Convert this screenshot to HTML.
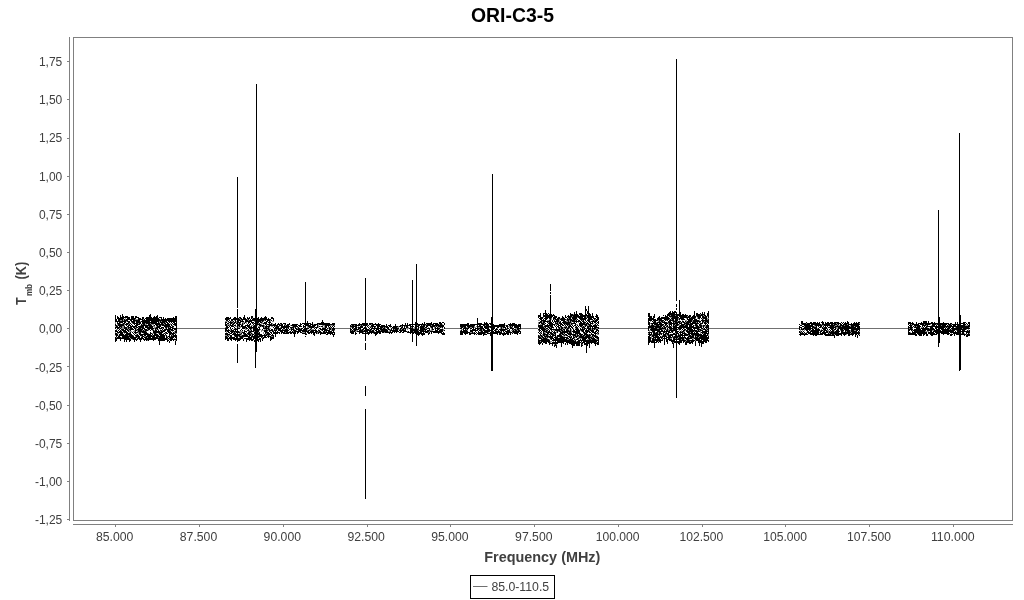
<!DOCTYPE html>
<html><head><meta charset="utf-8"><title>ORI-C3-5</title>
<style>
html,body{margin:0;padding:0;background:#fff;width:1024px;height:600px;overflow:hidden}
svg{display:block;filter:grayscale(1)}
text{font-family:"Liberation Sans",sans-serif}
.t{font-size:12px;fill:#404040}
.b{font-weight:bold;fill:#404040}
</style></head><body>
<svg width="1024" height="600" viewBox="0 0 1024 600">
<rect x="0" y="0" width="1024" height="600" fill="#fff"/>
<text x="512.5" y="22" text-anchor="middle" font-size="20" font-weight="bold" fill="#000" textLength="83" lengthAdjust="spacingAndGlyphs">ORI-C3-5</text>
<rect x="73.5" y="37.5" width="939" height="483" fill="none" stroke="#808080" stroke-width="1"/>
<g stroke="#808080" stroke-width="1" fill="none">
<path d="M69.5 37V521M73 524.5H1013"/>
<path d="M67 61.5H70M67 99.5H70M67 138.5H70M67 176.5H70M67 214.5H70M67 252.5H70M67 290.5H70M67 328.5H70M67 366.5H70M67 405.5H70M67 443.5H70M67 481.5H70M67 519.5H70M115.5 524V527M199.5 524V527M283.5 524V527M367.5 524V527M450.5 524V527M534.5 524V527M618.5 524V527M702.5 524V527M785.5 524V527M869.5 524V527M953.5 524V527"/>
</g>
<g class="t" text-anchor="end">
<text x="62.3" y="66.0">1,75</text><text x="62.3" y="104.2">1,50</text><text x="62.3" y="142.4">1,25</text><text x="62.3" y="180.6">1,00</text><text x="62.3" y="218.8">0,75</text><text x="62.3" y="256.9">0,50</text><text x="62.3" y="295.1">0,25</text><text x="62.3" y="333.3">0,00</text><text x="62.3" y="371.5">-0,25</text><text x="62.3" y="409.7">-0,50</text><text x="62.3" y="447.9">-0,75</text><text x="62.3" y="486.1">-1,00</text><text x="62.3" y="524.3">-1,25</text>
</g>
<g class="t" text-anchor="middle">
<text x="114.7" y="541.2" textLength="37.4" lengthAdjust="spacingAndGlyphs">85.000</text><text x="198.5" y="541.2" textLength="37.4" lengthAdjust="spacingAndGlyphs">87.500</text><text x="282.3" y="541.2" textLength="37.4" lengthAdjust="spacingAndGlyphs">90.000</text><text x="366.1" y="541.2" textLength="37.4" lengthAdjust="spacingAndGlyphs">92.500</text><text x="449.9" y="541.2" textLength="37.4" lengthAdjust="spacingAndGlyphs">95.000</text><text x="533.8" y="541.2" textLength="37.4" lengthAdjust="spacingAndGlyphs">97.500</text><text x="617.6" y="541.2" textLength="43.8" lengthAdjust="spacingAndGlyphs">100.000</text><text x="701.4" y="541.2" textLength="43.8" lengthAdjust="spacingAndGlyphs">102.500</text><text x="785.2" y="541.2" textLength="43.8" lengthAdjust="spacingAndGlyphs">105.000</text><text x="869.0" y="541.2" textLength="43.8" lengthAdjust="spacingAndGlyphs">107.500</text><text x="952.8" y="541.2" textLength="43.8" lengthAdjust="spacingAndGlyphs">110.000</text>
</g>
<text class="b" x="542.3" y="561.6" text-anchor="middle" font-size="14" textLength="116.1" lengthAdjust="spacingAndGlyphs">Frequency (MHz)</text>
<g transform="translate(26 305) rotate(-90)" class="b"><text x="0" y="0" font-size="14" textLength="7.6" lengthAdjust="spacingAndGlyphs">T</text><text x="8.9" y="5.8" font-size="8.6" font-weight="bold" textLength="12.2" lengthAdjust="spacingAndGlyphs">mb</text><text x="25.5" y="0" font-size="14" textLength="17.6" lengthAdjust="spacingAndGlyphs">(K)</text></g>
<rect x="470.5" y="575.5" width="84" height="23" fill="#fff" stroke="#000" stroke-width="1"/>
<path d="M473 586.5H487.5" stroke="#707070" stroke-width="1" fill="none"/>
<text x="491.4" y="590.8" font-size="12" fill="#404040" textLength="57.8" lengthAdjust="spacingAndGlyphs">85.0-110.5</text>
<path d="M177 328.5H225M335 328.5H350M445 328.5H460M521 328.5H538M599 328.5H648M709 328.5H799M860 328.5H908" stroke="#707070" stroke-width="1" fill="none"/>
<path shape-rendering="crispEdges" fill="#8a8a8a" d="M115 322v2h1v-2zM115 326v1h1v-1zM115 332v1h1v-1zM115 335v1h1v-1zM116 329v1h1v-1zM116 337v1h1v-1zM117 324v2h1v-2zM117 329v1h1v-1zM117 333v1h1v-1zM118 333v1h1v-1zM118 335v1h1v-1zM119 328v1h1v-1zM120 320v1h1v-1zM120 323v1h1v-1zM120 327v1h1v-1zM121 320v1h1v-1zM121 328v1h1v-1zM121 330v1h1v-1zM121 337v1h1v-1zM122 323v1h1v-1zM122 326v3h1v-3zM123 319v2h1v-2zM123 326v3h1v-3zM123 332v1h1v-1zM124 324v2h1v-2zM124 333v1h1v-1zM125 318v2h1v-2zM126 321v1h1v-1zM127 327v2h1v-2zM128 324v1h1v-1zM128 329v1h1v-1zM128 335v1h1v-1zM129 323v1h1v-1zM129 328v1h1v-1zM129 330v3h1v-3zM129 337v1h1v-1zM130 331v1h1v-1zM130 338v1h1v-1zM131 322v1h1v-1zM131 331v1h1v-1zM132 323v1h1v-1zM132 339v1h1v-1zM133 331v1h1v-1zM133 335v1h1v-1zM134 330v2h1v-2zM135 319v1h1v-1zM135 321v1h1v-1zM135 327v1h1v-1zM135 336v1h1v-1zM136 319v1h1v-1zM136 328v2h1v-2zM136 333v2h1v-2zM137 319v1h1v-1zM137 330v2h1v-2zM137 337v1h1v-1zM138 323v1h1v-1zM138 327v1h1v-1zM138 332v2h1v-2zM140 321v1h1v-1zM140 325v1h1v-1zM141 328v1h1v-1zM141 332v1h1v-1zM141 336v1h1v-1zM142 324v1h1v-1zM142 330v1h1v-1zM143 319v1h1v-1zM143 333v1h1v-1zM144 330v1h1v-1zM144 336v1h1v-1zM145 323v2h1v-2zM145 336v1h1v-1zM146 324v1h1v-1zM146 331v1h1v-1zM147 329v1h1v-1zM147 337v1h1v-1zM147 340v1h1v-1zM148 326v1h1v-1zM148 330v1h1v-1zM148 333v1h1v-1zM150 323v1h1v-1zM151 324v1h1v-1zM152 324v1h1v-1zM152 330v1h1v-1zM152 333v1h1v-1zM152 335v1h1v-1zM153 324v3h1v-3zM153 329v1h1v-1zM153 333v1h1v-1zM154 326v3h1v-3zM154 330v1h1v-1zM155 327v1h1v-1zM156 326v1h1v-1zM156 329v1h1v-1zM156 333v1h1v-1zM158 325v1h1v-1zM158 329v1h1v-1zM158 333v1h1v-1zM158 337v1h1v-1zM159 321v2h1v-2zM160 319v1h1v-1zM160 329v1h1v-1zM160 331v1h1v-1zM161 321v1h1v-1zM161 325v1h1v-1zM162 328v1h1v-1zM162 330v1h1v-1zM163 323v1h1v-1zM163 333v1h1v-1zM164 324v1h1v-1zM165 322v1h1v-1zM165 328v1h1v-1zM165 333v1h1v-1zM165 335v1h1v-1zM167 327v1h1v-1zM167 336v1h1v-1zM167 338v1h1v-1zM169 327v1h1v-1zM169 338v1h1v-1zM170 323v2h1v-2zM170 330v1h1v-1zM170 336v1h1v-1zM171 334v1h1v-1zM172 325v1h1v-1zM172 331v1h1v-1zM172 335v1h1v-1zM173 327v1h1v-1zM174 325v1h1v-1zM174 331v2h1v-2zM174 338v1h1v-1zM175 330v1h1v-1zM175 333v1h1v-1zM175 340v1h1v-1zM176 333v1h1v-1zM225 321v1h1v-1zM225 327v1h1v-1zM225 335v1h1v-1zM226 321v1h1v-1zM226 331v2h1v-2zM226 335v1h1v-1zM227 321v1h1v-1zM227 324v2h1v-2zM227 336v1h1v-1zM228 322v1h1v-1zM228 324v1h1v-1zM228 335v1h1v-1zM229 319v1h1v-1zM229 324v2h1v-2zM229 333v1h1v-1zM229 335v1h1v-1zM230 329v2h1v-2zM231 321v1h1v-1zM232 321v1h1v-1zM232 323v1h1v-1zM233 322v1h1v-1zM233 325v1h1v-1zM233 329v1h1v-1zM233 332v1h1v-1zM234 320v1h1v-1zM234 328v1h1v-1zM234 336v1h1v-1zM235 324v1h1v-1zM235 326v1h1v-1zM235 332v1h1v-1zM236 321v2h1v-2zM236 326v1h1v-1zM236 328v1h1v-1zM238 323v1h1v-1zM238 326v2h1v-2zM238 336v1h1v-1zM239 318v1h1v-1zM239 327v1h1v-1zM239 331v1h1v-1zM239 333v1h1v-1zM239 337v1h1v-1zM240 319v1h1v-1zM240 323v1h1v-1zM240 326v2h1v-2zM240 331v3h1v-3zM240 335v1h1v-1zM241 320v1h1v-1zM241 324v1h1v-1zM241 331v2h1v-2zM241 334v2h1v-2zM242 322v1h1v-1zM242 331v1h1v-1zM243 322v3h1v-3zM243 334v1h1v-1zM243 337v1h1v-1zM244 322v1h1v-1zM245 328v2h1v-2zM246 322v2h1v-2zM246 329v1h1v-1zM246 332v1h1v-1zM247 319v1h1v-1zM247 334v1h1v-1zM248 320v1h1v-1zM248 331v1h1v-1zM249 330v1h1v-1zM250 326v1h1v-1zM250 330v1h1v-1zM250 333v1h1v-1zM251 325v1h1v-1zM251 329v1h1v-1zM251 332v1h1v-1zM251 334v2h1v-2zM252 318v1h1v-1zM252 325v1h1v-1zM252 328v1h1v-1zM252 333v1h1v-1zM252 337v1h1v-1zM253 323v1h1v-1zM253 325v1h1v-1zM254 321v1h1v-1zM254 331v1h1v-1zM254 334v1h1v-1zM257 325v1h1v-1zM258 323v1h1v-1zM258 326v1h1v-1zM258 332v1h1v-1zM258 335v1h1v-1zM259 326v1h1v-1zM259 330v1h1v-1zM259 337v1h1v-1zM260 329v1h1v-1zM261 321v1h1v-1zM261 323v2h1v-2zM261 326v1h1v-1zM261 330v2h1v-2zM262 322v2h1v-2zM262 330v1h1v-1zM262 337v1h1v-1zM263 321v1h1v-1zM263 324v1h1v-1zM263 330v1h1v-1zM263 332v2h1v-2zM264 320v1h1v-1zM264 325v3h1v-3zM264 329v1h1v-1zM265 329v1h1v-1zM265 334v1h1v-1zM266 324v1h1v-1zM266 333v1h1v-1zM267 327v1h1v-1zM267 329v1h1v-1zM267 331v1h1v-1zM267 335v1h1v-1zM268 325v1h1v-1zM268 330v1h1v-1zM269 327v2h1v-2zM269 335v1h1v-1zM270 320v2h1v-2zM270 328v1h1v-1zM270 331v1h1v-1zM271 326v1h1v-1zM271 336v1h1v-1zM272 321v1h1v-1zM272 323v2h1v-2zM272 326v1h1v-1zM272 336v1h1v-1zM273 321v1h1v-1zM273 330v1h1v-1zM275 326v1h1v-1zM275 329v1h1v-1zM277 329v1h1v-1zM279 326v1h1v-1zM280 324v1h1v-1zM280 327v1h1v-1zM283 329v1h1v-1zM284 324v1h1v-1zM284 329v1h1v-1zM285 325v1h1v-1zM285 332v1h1v-1zM287 328v1h1v-1zM289 331v1h1v-1zM290 325v1h1v-1zM290 328v2h1v-2zM292 326v1h1v-1zM292 328v1h1v-1zM293 331v1h1v-1zM294 327v1h1v-1zM294 329v1h1v-1zM296 330v1h1v-1zM297 327v2h1v-2zM300 328v1h1v-1zM302 332v1h1v-1zM303 332v1h1v-1zM304 327v1h1v-1zM304 332v1h1v-1zM306 333v1h1v-1zM307 326v2h1v-2zM307 329v2h1v-2zM308 327v1h1v-1zM309 329v1h1v-1zM310 328v1h1v-1zM310 330v1h1v-1zM311 329v1h1v-1zM312 329v1h1v-1zM313 324v1h1v-1zM313 329v1h1v-1zM314 327v1h1v-1zM317 332v2h1v-2zM318 324v4h1v-4zM318 329v1h1v-1zM318 331v1h1v-1zM320 326v1h1v-1zM321 330v1h1v-1zM322 325v1h1v-1zM322 327v1h1v-1zM322 332v1h1v-1zM323 325v1h1v-1zM323 327v1h1v-1zM324 325v3h1v-3zM325 331v1h1v-1zM327 329v1h1v-1zM328 327v2h1v-2zM330 325v1h1v-1zM330 327v1h1v-1zM331 325v1h1v-1zM331 328v3h1v-3zM332 325v1h1v-1zM334 325v1h1v-1zM334 330v1h1v-1zM350 327v1h1v-1zM351 325v1h1v-1zM351 327v1h1v-1zM351 330v1h1v-1zM353 328v1h1v-1zM353 330v1h1v-1zM354 325v1h1v-1zM355 331v1h1v-1zM356 330v2h1v-2zM357 327v1h1v-1zM357 330v1h1v-1zM358 326v1h1v-1zM359 329v1h1v-1zM360 325v1h1v-1zM361 329v1h1v-1zM362 325v1h1v-1zM363 330v1h1v-1zM363 332v1h1v-1zM366 327v1h1v-1zM366 332v1h1v-1zM367 325v1h1v-1zM369 326v1h1v-1zM369 329v1h1v-1zM370 326v1h1v-1zM371 324v1h1v-1zM371 327v1h1v-1zM371 330v1h1v-1zM373 329v1h1v-1zM373 333v1h1v-1zM374 331v1h1v-1zM375 327v1h1v-1zM380 330v1h1v-1zM382 328v1h1v-1zM383 327v1h1v-1zM384 332v1h1v-1zM385 327v2h1v-2zM387 329v1h1v-1zM388 331v1h1v-1zM389 330v2h1v-2zM390 327v1h1v-1zM390 329v1h1v-1zM392 328v1h1v-1zM394 329v1h1v-1zM397 327v1h1v-1zM398 326v2h1v-2zM398 329v1h1v-1zM399 329v1h1v-1zM401 326v1h1v-1zM401 329v1h1v-1zM402 328v1h1v-1zM404 329v1h1v-1zM405 326v1h1v-1zM406 328v1h1v-1zM407 328v2h1v-2zM407 331v1h1v-1zM408 327v2h1v-2zM411 327v1h1v-1zM413 328v1h1v-1zM413 331v1h1v-1zM414 327v2h1v-2zM417 325v1h1v-1zM417 328v1h1v-1zM418 330v1h1v-1zM419 327v1h1v-1zM422 325v1h1v-1zM424 327v1h1v-1zM424 330v1h1v-1zM425 325v1h1v-1zM425 328v1h1v-1zM426 324v1h1v-1zM426 328v1h1v-1zM428 327v1h1v-1zM428 332v1h1v-1zM429 331v1h1v-1zM430 327v1h1v-1zM430 330v1h1v-1zM431 325v1h1v-1zM431 328v3h1v-3zM432 330v1h1v-1zM434 327v2h1v-2zM435 326v1h1v-1zM437 326v1h1v-1zM438 327v1h1v-1zM439 324v1h1v-1zM439 327v1h1v-1zM439 329v1h1v-1zM441 327v1h1v-1zM442 324v1h1v-1zM442 328v1h1v-1zM443 329v2h1v-2zM460 327v1h1v-1zM460 330v1h1v-1zM461 329v1h1v-1zM462 329v1h1v-1zM463 327v1h1v-1zM466 327v1h1v-1zM466 329v1h1v-1zM467 327v1h1v-1zM467 330v1h1v-1zM470 327v1h1v-1zM470 329v1h1v-1zM470 332v1h1v-1zM471 327v1h1v-1zM471 332v1h1v-1zM473 332v1h1v-1zM474 326v2h1v-2zM475 327v1h1v-1zM476 326v1h1v-1zM478 327v1h1v-1zM479 327v1h1v-1zM479 329v1h1v-1zM480 331v1h1v-1zM482 329v2h1v-2zM485 325v1h1v-1zM485 333v1h1v-1zM488 332v1h1v-1zM489 327v1h1v-1zM496 330v1h1v-1zM497 328v1h1v-1zM500 327v2h1v-2zM500 331v1h1v-1zM502 327v2h1v-2zM503 328v1h1v-1zM503 332v1h1v-1zM505 325v1h1v-1zM505 330v1h1v-1zM506 328v1h1v-1zM507 329v1h1v-1zM508 326v1h1v-1zM509 326v2h1v-2zM510 331v1h1v-1zM511 326v1h1v-1zM511 330v1h1v-1zM512 327v1h1v-1zM512 330v1h1v-1zM512 332v1h1v-1zM513 329v1h1v-1zM514 330v1h1v-1zM515 328v1h1v-1zM516 328v2h1v-2zM517 330v1h1v-1zM519 329v1h1v-1zM520 329v1h1v-1zM538 320v1h1v-1zM538 322v3h1v-3zM538 327v1h1v-1zM538 330v1h1v-1zM538 338v1h1v-1zM539 320v1h1v-1zM539 335v1h1v-1zM540 324v1h1v-1zM540 333v1h1v-1zM540 336v1h1v-1zM540 341v1h1v-1zM541 324v1h1v-1zM541 332v1h1v-1zM541 337v1h1v-1zM542 321v2h1v-2zM542 334v2h1v-2zM542 338v1h1v-1zM543 317v1h1v-1zM543 326v1h1v-1zM544 323v1h1v-1zM544 325v1h1v-1zM544 327v1h1v-1zM544 332v1h1v-1zM544 337v1h1v-1zM545 328v1h1v-1zM545 330v1h1v-1zM545 332v2h1v-2zM545 335v1h1v-1zM546 329v1h1v-1zM546 337v1h1v-1zM547 320v1h1v-1zM547 327v1h1v-1zM547 329v1h1v-1zM547 331v1h1v-1zM547 338v1h1v-1zM548 320v1h1v-1zM548 322v1h1v-1zM548 334v2h1v-2zM548 337v1h1v-1zM549 319v1h1v-1zM549 326v1h1v-1zM549 339v1h1v-1zM550 327v1h1v-1zM550 334v1h1v-1zM550 339v1h1v-1zM550 341v2h1v-2zM551 318v2h1v-2zM551 331v1h1v-1zM551 341v1h1v-1zM553 328v1h1v-1zM553 330v1h1v-1zM553 333v1h1v-1zM553 336v1h1v-1zM553 341v1h1v-1zM554 319v1h1v-1zM554 330v1h1v-1zM554 334v1h1v-1zM554 344v1h1v-1zM555 324v1h1v-1zM556 322v1h1v-1zM556 324v1h1v-1zM556 331v2h1v-2zM556 336v1h1v-1zM556 344v1h1v-1zM558 322v2h1v-2zM558 328v1h1v-1zM558 331v1h1v-1zM559 319v3h1v-3zM559 333v1h1v-1zM559 337v1h1v-1zM560 318v1h1v-1zM560 327v2h1v-2zM560 330v1h1v-1zM561 331v1h1v-1zM561 334v1h1v-1zM562 329v1h1v-1zM563 327v2h1v-2zM563 330v1h1v-1zM563 333v1h1v-1zM563 335v2h1v-2zM564 326v1h1v-1zM564 328v1h1v-1zM564 334v1h1v-1zM564 336v1h1v-1zM565 324v1h1v-1zM565 326v1h1v-1zM565 335v1h1v-1zM566 319v3h1v-3zM566 328v1h1v-1zM567 321v1h1v-1zM567 327v1h1v-1zM567 336v1h1v-1zM567 339v1h1v-1zM568 318v1h1v-1zM568 325v1h1v-1zM568 329v1h1v-1zM568 332v1h1v-1zM568 339v1h1v-1zM569 320v2h1v-2zM569 328v1h1v-1zM569 330v1h1v-1zM569 335v1h1v-1zM570 323v2h1v-2zM570 336v1h1v-1zM571 317v1h1v-1zM571 321v2h1v-2zM571 329v4h1v-4zM571 338v1h1v-1zM572 316v1h1v-1zM572 319v1h1v-1zM572 324v1h1v-1zM572 335v1h1v-1zM573 314v1h1v-1zM573 322v1h1v-1zM573 328v1h1v-1zM573 333v1h1v-1zM574 336v1h1v-1zM574 338v1h1v-1zM574 340v1h1v-1zM575 320v1h1v-1zM575 326v1h1v-1zM575 328v1h1v-1zM575 337v1h1v-1zM575 339v1h1v-1zM576 319v1h1v-1zM576 324v1h1v-1zM576 334v2h1v-2zM576 341v1h1v-1zM577 317v1h1v-1zM577 324v1h1v-1zM578 322v1h1v-1zM578 328v1h1v-1zM578 336v2h1v-2zM578 339v1h1v-1zM579 327v1h1v-1zM579 335v1h1v-1zM579 338v1h1v-1zM580 330v1h1v-1zM580 338v1h1v-1zM581 327v1h1v-1zM581 331v1h1v-1zM581 338v1h1v-1zM581 342v1h1v-1zM582 320v1h1v-1zM582 326v1h1v-1zM582 335v1h1v-1zM582 344v1h1v-1zM583 328v1h1v-1zM583 333v1h1v-1zM584 321v1h1v-1zM584 325v2h1v-2zM584 336v1h1v-1zM585 323v1h1v-1zM585 332v1h1v-1zM585 335v1h1v-1zM586 316v2h1v-2zM586 328v1h1v-1zM587 319v1h1v-1zM587 324v2h1v-2zM587 339v1h1v-1zM588 325v1h1v-1zM588 334v1h1v-1zM588 339v1h1v-1zM589 327v1h1v-1zM589 330v1h1v-1zM590 321v1h1v-1zM590 334v1h1v-1zM590 336v1h1v-1zM590 338v1h1v-1zM591 328v2h1v-2zM591 336v1h1v-1zM591 339v1h1v-1zM592 320v1h1v-1zM592 324v1h1v-1zM592 337v1h1v-1zM593 323v1h1v-1zM593 329v1h1v-1zM593 336v1h1v-1zM594 320v1h1v-1zM594 324v1h1v-1zM595 319v1h1v-1zM595 323v1h1v-1zM595 329v1h1v-1zM596 328v1h1v-1zM596 335v1h1v-1zM596 338v2h1v-2zM596 342v1h1v-1zM597 325v1h1v-1zM597 328v1h1v-1zM597 333v2h1v-2zM597 339v1h1v-1zM598 332v1h1v-1zM598 334v1h1v-1zM648 333v1h1v-1zM649 328v1h1v-1zM649 330v2h1v-2zM650 321v1h1v-1zM650 323v1h1v-1zM650 325v1h1v-1zM650 328v1h1v-1zM650 330v1h1v-1zM651 324v1h1v-1zM651 335v4h1v-4zM651 340v1h1v-1zM652 332v1h1v-1zM652 334v1h1v-1zM653 321v1h1v-1zM654 325v1h1v-1zM654 327v1h1v-1zM654 336v1h1v-1zM654 338v1h1v-1zM655 325v1h1v-1zM655 332v1h1v-1zM656 322v1h1v-1zM657 328v1h1v-1zM658 320v2h1v-2zM658 328v1h1v-1zM658 332v2h1v-2zM658 341v1h1v-1zM659 325v1h1v-1zM660 321v1h1v-1zM660 334v1h1v-1zM661 322v1h1v-1zM661 327v1h1v-1zM661 336v1h1v-1zM662 329v1h1v-1zM662 333v1h1v-1zM662 335v1h1v-1zM662 338v1h1v-1zM663 321v1h1v-1zM663 325v1h1v-1zM663 327v1h1v-1zM663 329v1h1v-1zM664 325v1h1v-1zM664 329v1h1v-1zM665 332v1h1v-1zM666 320v1h1v-1zM666 325v1h1v-1zM666 327v1h1v-1zM666 329v1h1v-1zM666 334v2h1v-2zM667 322v1h1v-1zM667 327v1h1v-1zM667 335v1h1v-1zM668 323v2h1v-2zM668 326v1h1v-1zM668 329v2h1v-2zM669 319v1h1v-1zM669 329v1h1v-1zM669 334v1h1v-1zM670 315v1h1v-1zM670 317v1h1v-1zM670 338v1h1v-1zM671 317v1h1v-1zM671 319v1h1v-1zM671 326v1h1v-1zM671 332v1h1v-1zM671 338v1h1v-1zM672 321v1h1v-1zM672 326v1h1v-1zM672 329v1h1v-1zM672 337v1h1v-1zM673 331v1h1v-1zM673 336v1h1v-1zM673 342v1h1v-1zM674 320v1h1v-1zM674 322v1h1v-1zM674 325v1h1v-1zM675 315v1h1v-1zM675 324v1h1v-1zM675 333v1h1v-1zM675 338v1h1v-1zM677 321v1h1v-1zM677 335v1h1v-1zM677 338v1h1v-1zM678 318v2h1v-2zM678 325v1h1v-1zM678 329v1h1v-1zM678 337v1h1v-1zM679 320v1h1v-1zM679 324v2h1v-2zM679 330v1h1v-1zM679 334v1h1v-1zM680 322v1h1v-1zM681 330v2h1v-2zM681 339v1h1v-1zM682 320v1h1v-1zM682 322v1h1v-1zM683 332v1h1v-1zM684 325v1h1v-1zM684 328v1h1v-1zM684 331v1h1v-1zM684 338v2h1v-2zM685 320v1h1v-1zM685 322v1h1v-1zM685 324v1h1v-1zM685 330v1h1v-1zM685 341v1h1v-1zM686 318v1h1v-1zM686 320v2h1v-2zM686 333v1h1v-1zM686 340v1h1v-1zM687 316v1h1v-1zM688 330v1h1v-1zM688 335v1h1v-1zM689 323v1h1v-1zM689 337v1h1v-1zM689 339v1h1v-1zM690 317v1h1v-1zM690 332v1h1v-1zM690 341v1h1v-1zM691 335v1h1v-1zM692 320v2h1v-2zM692 338v1h1v-1zM693 338v2h1v-2zM694 325v1h1v-1zM694 331v1h1v-1zM694 335v1h1v-1zM694 337v1h1v-1zM695 318v1h1v-1zM695 326v1h1v-1zM695 340v1h1v-1zM696 316v1h1v-1zM696 322v1h1v-1zM696 336v1h1v-1zM697 317v2h1v-2zM697 324v1h1v-1zM697 330v1h1v-1zM698 337v1h1v-1zM699 319v2h1v-2zM699 326v1h1v-1zM699 328v1h1v-1zM699 330v1h1v-1zM699 336v1h1v-1zM700 314v1h1v-1zM700 322v1h1v-1zM700 331v3h1v-3zM701 324v1h1v-1zM701 329v1h1v-1zM702 318v1h1v-1zM702 325v2h1v-2zM702 329v1h1v-1zM703 315v1h1v-1zM703 319v1h1v-1zM703 322v1h1v-1zM703 328v1h1v-1zM703 333v1h1v-1zM704 316v1h1v-1zM704 321v1h1v-1zM704 326v1h1v-1zM705 325v2h1v-2zM706 322v1h1v-1zM706 329v1h1v-1zM707 316v1h1v-1zM707 318v2h1v-2zM707 328v1h1v-1zM707 330v1h1v-1zM708 318v1h1v-1zM708 334v2h1v-2zM800 329v3h1v-3zM801 324v1h1v-1zM801 332v1h1v-1zM802 328v1h1v-1zM802 330v1h1v-1zM804 326v1h1v-1zM804 329v2h1v-2zM804 333v1h1v-1zM806 323v1h1v-1zM806 332v1h1v-1zM810 330v1h1v-1zM813 328v1h1v-1zM814 325v2h1v-2zM815 326v1h1v-1zM817 328v1h1v-1zM819 332v1h1v-1zM820 330v1h1v-1zM821 324v1h1v-1zM821 327v1h1v-1zM821 329v1h1v-1zM822 325v1h1v-1zM823 325v1h1v-1zM823 327v1h1v-1zM823 330v1h1v-1zM827 328v1h1v-1zM827 330v1h1v-1zM828 330v3h1v-3zM829 326v1h1v-1zM829 333v1h1v-1zM830 331v1h1v-1zM831 334v1h1v-1zM833 324v1h1v-1zM833 329v1h1v-1zM834 326v1h1v-1zM834 330v2h1v-2zM834 334v1h1v-1zM835 325v1h1v-1zM836 323v1h1v-1zM836 325v1h1v-1zM836 327v2h1v-2zM837 324v1h1v-1zM837 327v2h1v-2zM838 325v1h1v-1zM839 325v1h1v-1zM840 330v1h1v-1zM841 326v1h1v-1zM843 329v1h1v-1zM843 331v1h1v-1zM844 325v1h1v-1zM846 331v1h1v-1zM846 334v1h1v-1zM847 324v1h1v-1zM850 325v2h1v-2zM850 330v2h1v-2zM850 333v1h1v-1zM851 332v1h1v-1zM854 326v1h1v-1zM854 330v1h1v-1zM855 330v1h1v-1zM859 323v1h1v-1zM859 331v1h1v-1zM859 334v1h1v-1zM909 328v1h1v-1zM910 332v1h1v-1zM911 324v1h1v-1zM912 325v1h1v-1zM912 328v1h1v-1zM912 330v1h1v-1zM914 326v1h1v-1zM916 326v1h1v-1zM920 328v1h1v-1zM921 327v1h1v-1zM922 327v1h1v-1zM924 324v1h1v-1zM925 331v1h1v-1zM926 325v1h1v-1zM926 331v1h1v-1zM927 327v1h1v-1zM927 331v1h1v-1zM928 331v1h1v-1zM929 328v1h1v-1zM930 324v1h1v-1zM931 325v1h1v-1zM932 330v1h1v-1zM933 330v1h1v-1zM936 324v1h1v-1zM941 325v1h1v-1zM945 327v1h1v-1zM947 327v1h1v-1zM948 325v1h1v-1zM949 329v1h1v-1zM951 324v1h1v-1zM951 329v1h1v-1zM951 333v1h1v-1zM955 327v1h1v-1zM956 330v1h1v-1zM961 333v1h1v-1zM962 328v1h1v-1zM964 333v1h1v-1zM965 325v1h1v-1zM966 325v1h1v-1zM966 329v1h1v-1zM966 334v1h1v-1zM967 325v1h1v-1zM968 329v2h1v-2zM969 327v1h1v-1zM969 333v1h1v-1z"/>
<path shape-rendering="crispEdges" fill="#000" d="M115 315v7h1v-7zM115 324v2h1v-2zM115 327v2h1v-2zM115 330v2h1v-2zM115 333v2h1v-2zM115 337v5h1v-5zM116 319v3h1v-3zM116 325v3h1v-3zM116 330v2h1v-2zM116 333v4h1v-4zM116 338v3h1v-3zM117 316v3h1v-3zM117 321v3h1v-3zM117 326v3h1v-3zM117 331v2h1v-2zM117 334v2h1v-2zM117 337v2h1v-2zM118 317v5h1v-5zM118 323v3h1v-3zM118 327v2h1v-2zM118 330v1h1v-1zM118 332v1h1v-1zM118 336v3h1v-3zM119 318v10h1v-10zM119 329v1h1v-1zM119 331v2h1v-2zM119 334v5h1v-5zM120 315v5h1v-5zM120 321v2h1v-2zM120 324v3h1v-3zM120 328v1h1v-1zM120 330v6h1v-6zM120 337v4h1v-4zM121 317v3h1v-3zM121 321v2h1v-2zM121 324v4h1v-4zM121 329v1h1v-1zM121 331v5h1v-5zM121 338v1h1v-1zM122 314v9h1v-9zM122 324v2h1v-2zM122 329v2h1v-2zM122 332v7h1v-7zM123 316v3h1v-3zM123 321v1h1v-1zM123 323v3h1v-3zM123 329v3h1v-3zM123 334v5h1v-5zM124 317v1h1v-1zM124 319v5h1v-5zM124 326v3h1v-3zM124 330v3h1v-3zM124 335v7h1v-7zM125 316v2h1v-2zM125 320v3h1v-3zM125 324v1h1v-1zM125 327v6h1v-6zM125 334v6h1v-6zM126 316v2h1v-2zM126 319v2h1v-2zM126 323v3h1v-3zM126 327v3h1v-3zM126 331v11h1v-11zM127 316v6h1v-6zM127 323v2h1v-2zM127 326v1h1v-1zM127 329v2h1v-2zM127 332v8h1v-8zM128 317v3h1v-3zM128 321v3h1v-3zM128 325v4h1v-4zM128 330v2h1v-2zM128 333v2h1v-2zM128 336v4h1v-4zM129 317v3h1v-3zM129 321v2h1v-2zM129 324v2h1v-2zM129 327v1h1v-1zM129 329v1h1v-1zM129 333v4h1v-4zM129 338v4h1v-4zM130 319v2h1v-2zM130 323v1h1v-1zM130 325v6h1v-6zM130 332v6h1v-6zM130 339v2h1v-2zM131 316v6h1v-6zM131 324v1h1v-1zM131 326v4h1v-4zM131 334v5h1v-5zM132 316v4h1v-4zM132 321v2h1v-2zM132 325v2h1v-2zM132 328v2h1v-2zM132 332v1h1v-1zM132 335v4h1v-4zM133 316v8h1v-8zM133 326v2h1v-2zM133 329v1h1v-1zM133 333v1h1v-1zM133 336v4h1v-4zM134 318v7h1v-7zM134 326v3h1v-3zM134 332v1h1v-1zM134 334v1h1v-1zM134 337v5h1v-5zM135 316v3h1v-3zM135 320v1h1v-1zM135 323v1h1v-1zM135 325v2h1v-2zM135 328v6h1v-6zM135 335v1h1v-1zM135 337v3h1v-3zM136 316v2h1v-2zM136 320v8h1v-8zM136 330v1h1v-1zM136 332v1h1v-1zM136 335v3h1v-3zM136 339v2h1v-2zM137 317v1h1v-1zM137 320v6h1v-6zM137 327v1h1v-1zM137 329v1h1v-1zM137 332v1h1v-1zM137 334v3h1v-3zM137 338v2h1v-2zM138 317v6h1v-6zM138 324v1h1v-1zM138 326v1h1v-1zM138 328v4h1v-4zM138 335v4h1v-4zM139 318v7h1v-7zM139 326v9h1v-9zM139 336v4h1v-4zM140 318v2h1v-2zM140 322v2h1v-2zM140 326v10h1v-10zM140 338v4h1v-4zM141 319v1h1v-1zM141 321v1h1v-1zM141 324v4h1v-4zM141 329v3h1v-3zM141 334v2h1v-2zM141 337v3h1v-3zM142 317v7h1v-7zM142 325v5h1v-5zM142 331v2h1v-2zM142 334v5h1v-5zM143 317v2h1v-2zM143 320v9h1v-9zM143 330v3h1v-3zM143 334v1h1v-1zM143 336v1h1v-1zM143 338v2h1v-2zM144 319v7h1v-7zM144 328v2h1v-2zM144 331v5h1v-5zM144 337v1h1v-1zM144 339v2h1v-2zM145 318v1h1v-1zM145 320v3h1v-3zM145 325v3h1v-3zM145 329v7h1v-7zM145 337v3h1v-3zM146 317v7h1v-7zM146 325v3h1v-3zM146 329v2h1v-2zM146 332v3h1v-3zM146 336v5h1v-5zM147 317v7h1v-7zM147 325v4h1v-4zM147 330v1h1v-1zM147 333v4h1v-4zM147 338v2h1v-2zM148 317v9h1v-9zM148 327v3h1v-3zM148 334v7h1v-7zM149 315v15h1v-15zM149 334v6h1v-6zM150 314v7h1v-7zM150 322v1h1v-1zM150 324v5h1v-5zM150 330v1h1v-1zM150 332v8h1v-8zM151 317v7h1v-7zM151 325v5h1v-5zM151 333v1h1v-1zM151 335v2h1v-2zM151 338v2h1v-2zM152 318v6h1v-6zM152 326v4h1v-4zM152 334v1h1v-1zM152 336v4h1v-4zM153 317v7h1v-7zM153 328v1h1v-1zM153 330v3h1v-3zM153 335v6h1v-6zM154 316v8h1v-8zM154 325v1h1v-1zM154 331v9h1v-9zM155 317v8h1v-8zM155 328v8h1v-8zM155 337v3h1v-3zM156 316v10h1v-10zM156 327v2h1v-2zM156 330v3h1v-3zM156 334v5h1v-5zM157 315v7h1v-7zM157 323v7h1v-7zM157 331v2h1v-2zM157 334v5h1v-5zM158 318v7h1v-7zM158 326v2h1v-2zM158 330v3h1v-3zM158 335v2h1v-2zM158 338v3h1v-3zM159 317v1h1v-1zM159 319v2h1v-2zM159 323v6h1v-6zM159 331v4h1v-4zM159 336v9h1v-9zM160 317v1h1v-1zM160 320v3h1v-3zM160 324v3h1v-3zM160 328v1h1v-1zM160 330v1h1v-1zM160 332v9h1v-9zM161 317v4h1v-4zM161 322v3h1v-3zM161 327v2h1v-2zM161 330v11h1v-11zM162 319v7h1v-7zM162 327v1h1v-1zM162 329v1h1v-1zM162 331v2h1v-2zM162 334v7h1v-7zM163 317v6h1v-6zM163 324v2h1v-2zM163 327v2h1v-2zM163 330v2h1v-2zM163 334v7h1v-7zM164 319v5h1v-5zM164 325v2h1v-2zM164 329v3h1v-3zM164 333v1h1v-1zM164 335v6h1v-6zM165 318v4h1v-4zM165 323v5h1v-5zM165 329v2h1v-2zM165 332v1h1v-1zM165 334v1h1v-1zM165 338v2h1v-2zM166 319v4h1v-4zM166 324v6h1v-6zM166 332v2h1v-2zM166 335v5h1v-5zM167 318v3h1v-3zM167 322v5h1v-5zM167 329v3h1v-3zM167 333v1h1v-1zM167 337v1h1v-1zM167 339v3h1v-3zM168 318v4h1v-4zM168 323v10h1v-10zM168 336v1h1v-1zM168 338v1h1v-1zM168 340v1h1v-1zM169 318v5h1v-5zM169 324v3h1v-3zM169 328v10h1v-10zM169 339v1h1v-1zM169 341v2h1v-2zM170 318v4h1v-4zM170 326v4h1v-4zM170 331v4h1v-4zM170 337v4h1v-4zM171 318v5h1v-5zM171 324v2h1v-2zM171 327v1h1v-1zM171 329v2h1v-2zM171 332v2h1v-2zM171 335v6h1v-6zM172 318v4h1v-4zM172 323v1h1v-1zM172 326v5h1v-5zM172 333v2h1v-2zM172 336v4h1v-4zM173 317v6h1v-6zM173 324v1h1v-1zM173 326v1h1v-1zM173 328v1h1v-1zM173 330v1h1v-1zM173 332v6h1v-6zM173 339v2h1v-2zM174 318v7h1v-7zM174 328v2h1v-2zM174 333v1h1v-1zM174 335v2h1v-2zM174 339v1h1v-1zM175 316v6h1v-6zM175 323v3h1v-3zM175 328v2h1v-2zM175 331v2h1v-2zM175 334v4h1v-4zM175 339v1h1v-1zM175 341v4h1v-4zM176 316v17h1v-17zM176 335v6h1v-6zM225 318v2h1v-2zM225 322v4h1v-4zM225 328v4h1v-4zM225 333v2h1v-2zM225 336v4h1v-4zM226 317v4h1v-4zM226 322v1h1v-1zM226 324v7h1v-7zM226 333v2h1v-2zM226 336v3h1v-3zM227 317v4h1v-4zM227 323v1h1v-1zM227 326v3h1v-3zM227 330v2h1v-2zM227 333v3h1v-3zM227 337v4h1v-4zM228 317v3h1v-3zM228 321v1h1v-1zM228 323v1h1v-1zM228 325v1h1v-1zM228 327v1h1v-1zM228 329v4h1v-4zM228 334v1h1v-1zM228 336v1h1v-1zM228 338v3h1v-3zM229 318v1h1v-1zM229 320v1h1v-1zM229 322v1h1v-1zM229 326v1h1v-1zM229 330v1h1v-1zM229 332v1h1v-1zM229 334v1h1v-1zM229 337v2h1v-2zM230 317v2h1v-2zM230 321v5h1v-5zM230 327v2h1v-2zM230 331v1h1v-1zM230 333v1h1v-1zM230 335v5h1v-5zM231 319v2h1v-2zM231 322v2h1v-2zM231 325v2h1v-2zM231 329v5h1v-5zM231 335v6h1v-6zM232 319v2h1v-2zM232 322v1h1v-1zM232 324v3h1v-3zM232 328v1h1v-1zM232 330v3h1v-3zM232 334v1h1v-1zM232 337v2h1v-2zM233 318v2h1v-2zM233 321v1h1v-1zM233 323v2h1v-2zM233 326v1h1v-1zM233 330v2h1v-2zM233 333v2h1v-2zM233 337v3h1v-3zM234 317v3h1v-3zM234 322v2h1v-2zM234 325v1h1v-1zM234 327v1h1v-1zM234 329v1h1v-1zM234 331v5h1v-5zM234 337v3h1v-3zM235 317v6h1v-6zM235 325v1h1v-1zM235 328v4h1v-4zM235 333v4h1v-4zM235 338v3h1v-3zM236 318v2h1v-2zM236 323v1h1v-1zM236 329v1h1v-1zM236 331v2h1v-2zM236 334v6h1v-6zM237 177v131h1v-131zM237 309v33h1v-33zM237 344v19h1v-19zM238 318v5h1v-5zM238 324v2h1v-2zM238 328v1h1v-1zM238 331v2h1v-2zM238 334v2h1v-2zM238 338v3h1v-3zM239 317v1h1v-1zM239 319v2h1v-2zM239 322v5h1v-5zM239 328v1h1v-1zM239 332v1h1v-1zM239 334v3h1v-3zM239 338v3h1v-3zM240 317v2h1v-2zM240 320v3h1v-3zM240 324v1h1v-1zM240 330v1h1v-1zM240 334v1h1v-1zM240 336v4h1v-4zM241 318v2h1v-2zM241 321v1h1v-1zM241 325v2h1v-2zM241 329v1h1v-1zM241 333v1h1v-1zM241 336v3h1v-3zM242 319v3h1v-3zM242 323v6h1v-6zM242 330v1h1v-1zM242 332v1h1v-1zM242 335v4h1v-4zM243 317v3h1v-3zM243 321v1h1v-1zM243 326v3h1v-3zM243 332v2h1v-2zM243 335v2h1v-2zM243 339v2h1v-2zM244 315v5h1v-5zM244 323v1h1v-1zM244 326v3h1v-3zM244 330v7h1v-7zM244 338v1h1v-1zM245 318v5h1v-5zM245 325v3h1v-3zM245 331v1h1v-1zM245 333v4h1v-4zM245 338v1h1v-1zM246 319v3h1v-3zM246 325v1h1v-1zM246 327v2h1v-2zM246 331v1h1v-1zM246 334v3h1v-3zM246 338v4h1v-4zM247 317v2h1v-2zM247 320v2h1v-2zM247 324v3h1v-3zM247 328v1h1v-1zM247 330v1h1v-1zM247 333v1h1v-1zM247 335v2h1v-2zM247 338v2h1v-2zM248 318v2h1v-2zM248 321v3h1v-3zM248 325v3h1v-3zM248 329v2h1v-2zM248 332v3h1v-3zM248 336v4h1v-4zM249 317v2h1v-2zM249 320v3h1v-3zM249 324v5h1v-5zM249 331v10h1v-10zM250 319v3h1v-3zM250 323v2h1v-2zM250 327v3h1v-3zM250 331v2h1v-2zM250 334v2h1v-2zM250 337v3h1v-3zM251 316v3h1v-3zM251 320v3h1v-3zM251 326v3h1v-3zM251 330v2h1v-2zM251 333v1h1v-1zM251 336v5h1v-5zM252 316v2h1v-2zM252 319v2h1v-2zM252 322v2h1v-2zM252 327v1h1v-1zM252 331v1h1v-1zM252 334v3h1v-3zM252 339v2h1v-2zM253 318v3h1v-3zM253 322v1h1v-1zM253 324v1h1v-1zM253 326v6h1v-6zM253 334v1h1v-1zM253 336v4h1v-4zM254 318v3h1v-3zM254 323v1h1v-1zM254 325v6h1v-6zM254 332v2h1v-2zM254 335v4h1v-4zM254 340v2h1v-2zM255 309v59h1v-59zM256 84v268h1v-268zM257 318v7h1v-7zM257 328v13h1v-13zM258 317v6h1v-6zM258 324v1h1v-1zM258 327v1h1v-1zM258 329v3h1v-3zM258 333v2h1v-2zM258 336v2h1v-2zM258 339v3h1v-3zM259 319v3h1v-3zM259 323v3h1v-3zM259 327v3h1v-3zM259 332v5h1v-5zM259 338v2h1v-2zM260 318v5h1v-5zM260 324v3h1v-3zM260 334v3h1v-3zM260 338v4h1v-4zM261 317v4h1v-4zM261 322v1h1v-1zM261 325v1h1v-1zM261 334v4h1v-4zM262 318v4h1v-4zM262 325v2h1v-2zM262 329v1h1v-1zM262 335v2h1v-2zM262 338v3h1v-3zM263 318v3h1v-3zM263 323v1h1v-1zM263 325v4h1v-4zM263 335v1h1v-1zM263 337v2h1v-2zM264 317v3h1v-3zM264 322v2h1v-2zM264 328v1h1v-1zM264 330v2h1v-2zM264 334v4h1v-4zM265 316v5h1v-5zM265 322v3h1v-3zM265 326v3h1v-3zM265 330v4h1v-4zM265 335v3h1v-3zM266 317v3h1v-3zM266 321v3h1v-3zM266 325v8h1v-8zM266 334v2h1v-2zM266 337v1h1v-1zM267 319v3h1v-3zM267 324v1h1v-1zM267 326v1h1v-1zM267 328v1h1v-1zM267 330v1h1v-1zM267 332v3h1v-3zM267 336v1h1v-1zM268 318v3h1v-3zM268 322v1h1v-1zM268 324v1h1v-1zM268 326v4h1v-4zM268 332v6h1v-6zM269 319v8h1v-8zM269 329v3h1v-3zM269 333v2h1v-2zM269 336v1h1v-1zM270 319v1h1v-1zM270 322v1h1v-1zM270 324v2h1v-2zM270 330v1h1v-1zM270 332v1h1v-1zM270 334v1h1v-1zM270 336v5h1v-5zM271 317v2h1v-2zM271 320v1h1v-1zM271 323v3h1v-3zM271 329v2h1v-2zM271 332v2h1v-2zM271 335v1h1v-1zM271 337v3h1v-3zM272 317v2h1v-2zM272 325v1h1v-1zM272 329v3h1v-3zM272 334v2h1v-2zM272 337v2h1v-2zM273 318v3h1v-3zM273 324v2h1v-2zM273 327v1h1v-1zM273 331v3h1v-3zM273 335v4h1v-4zM274 324v3h1v-3zM274 328v3h1v-3zM274 332v2h1v-2zM275 323v3h1v-3zM275 327v2h1v-2zM275 330v7h1v-7zM276 325v6h1v-6zM276 332v2h1v-2zM277 324v5h1v-5zM277 331v3h1v-3zM278 323v2h1v-2zM278 326v5h1v-5zM278 332v1h1v-1zM279 324v2h1v-2zM279 328v3h1v-3zM279 332v2h1v-2zM280 323v1h1v-1zM280 325v1h1v-1zM280 328v4h1v-4zM281 323v6h1v-6zM281 330v4h1v-4zM282 324v4h1v-4zM282 329v4h1v-4zM283 323v1h1v-1zM283 326v3h1v-3zM283 330v1h1v-1zM283 332v2h1v-2zM284 323v1h1v-1zM284 325v4h1v-4zM284 330v4h1v-4zM285 323v2h1v-2zM285 326v2h1v-2zM285 329v3h1v-3zM285 333v1h1v-1zM286 325v9h1v-9zM287 324v4h1v-4zM287 329v5h1v-5zM288 324v5h1v-5zM288 330v1h1v-1zM288 332v2h1v-2zM289 323v2h1v-2zM289 326v1h1v-1zM289 329v1h1v-1zM289 332v1h1v-1zM290 327v1h1v-1zM290 331v3h1v-3zM291 325v1h1v-1zM291 327v4h1v-4zM291 332v2h1v-2zM292 324v2h1v-2zM292 327v1h1v-1zM292 329v1h1v-1zM292 331v2h1v-2zM293 324v7h1v-7zM293 332v2h1v-2zM294 324v3h1v-3zM294 330v7h1v-7zM295 324v5h1v-5zM295 330v4h1v-4zM296 324v3h1v-3zM296 328v2h1v-2zM296 331v1h1v-1zM297 324v1h1v-1zM297 326v1h1v-1zM297 329v1h1v-1zM297 331v3h1v-3zM298 325v1h1v-1zM298 327v6h1v-6zM299 325v2h1v-2zM299 328v4h1v-4zM300 323v4h1v-4zM300 329v4h1v-4zM301 324v1h1v-1zM301 326v1h1v-1zM301 328v3h1v-3zM301 332v1h1v-1zM302 323v1h1v-1zM302 328v1h1v-1zM302 330v2h1v-2zM302 333v1h1v-1zM303 323v1h1v-1zM303 325v3h1v-3zM303 329v3h1v-3zM303 333v1h1v-1zM304 323v2h1v-2zM304 326v1h1v-1zM304 328v4h1v-4zM304 333v1h1v-1zM305 282v53h1v-53zM305 336v1h1v-1zM306 323v3h1v-3zM306 328v4h1v-4zM306 334v1h1v-1zM307 321v5h1v-5zM307 328v1h1v-1zM307 331v2h1v-2zM308 323v4h1v-4zM308 328v1h1v-1zM308 330v4h1v-4zM309 323v1h1v-1zM309 325v3h1v-3zM309 330v1h1v-1zM309 332v2h1v-2zM310 323v5h1v-5zM310 329v1h1v-1zM310 331v2h1v-2zM311 324v1h1v-1zM311 326v3h1v-3zM311 330v4h1v-4zM312 322v6h1v-6zM312 330v3h1v-3zM313 325v3h1v-3zM313 330v5h1v-5zM314 324v3h1v-3zM314 328v1h1v-1zM314 330v1h1v-1zM314 332v4h1v-4zM315 324v2h1v-2zM315 327v1h1v-1zM315 329v4h1v-4zM316 324v1h1v-1zM316 327v2h1v-2zM316 330v4h1v-4zM317 323v5h1v-5zM317 331v1h1v-1zM318 323v1h1v-1zM318 330v1h1v-1zM318 332v2h1v-2zM319 323v2h1v-2zM319 326v1h1v-1zM319 328v1h1v-1zM319 330v3h1v-3zM320 323v2h1v-2zM320 328v2h1v-2zM320 331v4h1v-4zM321 322v3h1v-3zM321 326v1h1v-1zM321 329v1h1v-1zM321 332v2h1v-2zM322 320v5h1v-5zM322 326v1h1v-1zM322 328v3h1v-3zM322 333v1h1v-1zM323 322v3h1v-3zM323 328v2h1v-2zM323 331v3h1v-3zM324 323v2h1v-2zM324 328v6h1v-6zM325 323v8h1v-8zM325 332v2h1v-2zM326 323v5h1v-5zM326 329v4h1v-4zM326 334v1h1v-1zM327 323v3h1v-3zM327 328v1h1v-1zM327 330v1h1v-1zM327 332v3h1v-3zM328 323v4h1v-4zM328 330v4h1v-4zM329 323v3h1v-3zM329 327v7h1v-7zM330 324v1h1v-1zM330 326v1h1v-1zM330 328v2h1v-2zM330 331v4h1v-4zM331 324v1h1v-1zM331 327v1h1v-1zM331 331v3h1v-3zM332 323v2h1v-2zM332 326v1h1v-1zM332 328v3h1v-3zM332 332v3h1v-3zM333 323v3h1v-3zM333 327v6h1v-6zM333 334v3h1v-3zM334 323v2h1v-2zM334 326v1h1v-1zM334 328v2h1v-2zM334 332v3h1v-3zM350 325v2h1v-2zM350 328v5h1v-5zM351 324v1h1v-1zM351 326v1h1v-1zM351 329v1h1v-1zM351 331v3h1v-3zM352 324v5h1v-5zM352 330v4h1v-4zM353 324v4h1v-4zM353 329v1h1v-1zM353 331v3h1v-3zM354 324v1h1v-1zM354 326v1h1v-1zM354 328v4h1v-4zM355 324v7h1v-7zM355 332v3h1v-3zM356 324v6h1v-6zM356 333v1h1v-1zM357 325v1h1v-1zM357 329v1h1v-1zM357 331v1h1v-1zM358 324v2h1v-2zM358 327v3h1v-3zM358 331v1h1v-1zM359 323v3h1v-3zM359 327v2h1v-2zM359 330v4h1v-4zM360 324v1h1v-1zM360 326v7h1v-7zM361 324v4h1v-4zM361 330v3h1v-3zM362 323v2h1v-2zM362 326v2h1v-2zM362 329v5h1v-5zM363 323v3h1v-3zM363 328v2h1v-2zM363 331v1h1v-1zM363 333v1h1v-1zM364 323v3h1v-3zM364 327v2h1v-2zM364 330v2h1v-2zM364 333v1h1v-1zM365 278v63h1v-63zM365 343v7h1v-7zM365 386v10h1v-10zM365 409v90h1v-90zM366 323v3h1v-3zM366 328v4h1v-4zM366 333v1h1v-1zM367 323v2h1v-2zM367 326v1h1v-1zM367 329v5h1v-5zM368 325v1h1v-1zM368 327v1h1v-1zM368 329v2h1v-2zM368 332v3h1v-3zM369 323v2h1v-2zM369 328v1h1v-1zM369 330v4h1v-4zM370 323v2h1v-2zM370 327v1h1v-1zM370 329v4h1v-4zM371 323v1h1v-1zM371 325v2h1v-2zM371 328v2h1v-2zM371 331v3h1v-3zM372 323v6h1v-6zM372 330v3h1v-3zM373 324v3h1v-3zM373 328v1h1v-1zM373 330v3h1v-3zM374 324v1h1v-1zM374 326v4h1v-4zM374 332v2h1v-2zM375 323v2h1v-2zM375 326v1h1v-1zM375 328v1h1v-1zM375 330v1h1v-1zM375 332v4h1v-4zM376 324v2h1v-2zM376 328v7h1v-7zM377 324v6h1v-6zM377 331v3h1v-3zM378 323v10h1v-10zM379 324v3h1v-3zM379 328v1h1v-1zM379 330v4h1v-4zM380 324v1h1v-1zM380 326v4h1v-4zM380 331v3h1v-3zM381 325v7h1v-7zM382 325v3h1v-3zM382 329v4h1v-4zM383 325v2h1v-2zM383 328v5h1v-5zM384 325v7h1v-7zM385 326v1h1v-1zM385 329v4h1v-4zM386 324v4h1v-4zM386 329v4h1v-4zM387 326v3h1v-3zM387 330v3h1v-3zM388 325v1h1v-1zM388 327v3h1v-3zM388 332v1h1v-1zM389 325v2h1v-2zM389 329v1h1v-1zM389 332v2h1v-2zM390 324v3h1v-3zM390 330v3h1v-3zM391 326v1h1v-1zM391 328v3h1v-3zM391 332v2h1v-2zM392 327v1h1v-1zM392 330v3h1v-3zM393 326v6h1v-6zM394 326v3h1v-3zM394 330v3h1v-3zM395 324v8h1v-8zM396 326v7h1v-7zM397 326v1h1v-1zM397 328v4h1v-4zM398 328v1h1v-1zM398 331v1h1v-1zM399 326v1h1v-1zM399 330v1h1v-1zM399 332v1h1v-1zM400 325v2h1v-2zM400 328v5h1v-5zM401 325v1h1v-1zM401 327v2h1v-2zM401 330v2h1v-2zM402 324v4h1v-4zM402 329v2h1v-2zM402 332v1h1v-1zM403 325v1h1v-1zM403 328v5h1v-5zM404 325v4h1v-4zM404 330v2h1v-2zM405 323v3h1v-3zM405 328v4h1v-4zM406 325v3h1v-3zM406 331v1h1v-1zM407 323v5h1v-5zM407 332v1h1v-1zM408 325v1h1v-1zM408 331v2h1v-2zM409 324v2h1v-2zM409 328v1h1v-1zM409 332v1h1v-1zM410 324v10h1v-10zM411 324v1h1v-1zM411 326v1h1v-1zM411 328v5h1v-5zM412 280v62h1v-62zM413 324v1h1v-1zM413 326v1h1v-1zM413 329v2h1v-2zM413 332v2h1v-2zM414 324v1h1v-1zM414 329v4h1v-4zM415 322v12h1v-12zM416 264v82h1v-82zM417 323v2h1v-2zM417 326v1h1v-1zM417 329v6h1v-6zM418 324v6h1v-6zM418 331v5h1v-5zM419 324v2h1v-2zM419 330v1h1v-1zM419 332v3h1v-3zM420 324v1h1v-1zM420 326v8h1v-8zM421 324v11h1v-11zM422 323v2h1v-2zM422 326v6h1v-6zM422 333v3h1v-3zM423 324v11h1v-11zM424 322v5h1v-5zM424 328v2h1v-2zM424 331v1h1v-1zM424 333v2h1v-2zM425 324v1h1v-1zM425 327v1h1v-1zM425 329v4h1v-4zM426 323v1h1v-1zM426 325v3h1v-3zM426 329v1h1v-1zM426 331v2h1v-2zM427 323v4h1v-4zM427 328v1h1v-1zM427 330v3h1v-3zM428 323v3h1v-3zM428 328v1h1v-1zM428 330v2h1v-2zM428 333v2h1v-2zM429 323v3h1v-3zM429 328v3h1v-3zM429 332v2h1v-2zM430 323v4h1v-4zM430 331v1h1v-1zM431 322v3h1v-3zM431 326v2h1v-2zM431 331v3h1v-3zM432 324v6h1v-6zM432 331v1h1v-1zM433 323v4h1v-4zM433 329v1h1v-1zM433 331v2h1v-2zM434 323v1h1v-1zM434 325v2h1v-2zM434 331v2h1v-2zM435 323v3h1v-3zM435 327v6h1v-6zM436 323v4h1v-4zM436 328v1h1v-1zM436 330v3h1v-3zM437 323v3h1v-3zM437 327v6h1v-6zM438 324v3h1v-3zM438 328v2h1v-2zM438 331v3h1v-3zM439 322v2h1v-2zM439 325v2h1v-2zM439 328v1h1v-1zM439 330v3h1v-3zM440 322v6h1v-6zM440 329v4h1v-4zM441 323v4h1v-4zM441 329v5h1v-5zM442 322v1h1v-1zM442 325v3h1v-3zM442 329v3h1v-3zM442 333v2h1v-2zM443 322v1h1v-1zM443 325v2h1v-2zM443 332v3h1v-3zM444 323v2h1v-2zM444 327v2h1v-2zM444 330v1h1v-1zM444 333v2h1v-2zM460 324v3h1v-3zM460 328v1h1v-1zM460 331v4h1v-4zM461 324v5h1v-5zM461 330v5h1v-5zM462 324v4h1v-4zM462 331v4h1v-4zM463 324v3h1v-3zM463 328v5h1v-5zM464 324v5h1v-5zM464 330v4h1v-4zM465 324v11h1v-11zM466 324v2h1v-2zM466 328v1h1v-1zM466 330v4h1v-4zM467 323v4h1v-4zM467 328v2h1v-2zM467 331v3h1v-3zM468 323v6h1v-6zM468 332v1h1v-1zM469 325v3h1v-3zM469 332v3h1v-3zM470 324v3h1v-3zM470 328v1h1v-1zM470 330v2h1v-2zM470 333v2h1v-2zM471 324v3h1v-3zM471 328v1h1v-1zM471 330v2h1v-2zM471 333v1h1v-1zM472 324v4h1v-4zM472 329v5h1v-5zM473 324v7h1v-7zM473 333v1h1v-1zM474 324v2h1v-2zM474 329v2h1v-2zM474 332v3h1v-3zM475 324v1h1v-1zM475 328v4h1v-4zM475 333v1h1v-1zM476 324v1h1v-1zM476 328v1h1v-1zM476 330v1h1v-1zM476 332v1h1v-1zM476 334v1h1v-1zM477 318v13h1v-13zM477 333v1h1v-1zM478 323v2h1v-2zM478 326v1h1v-1zM478 328v2h1v-2zM478 331v4h1v-4zM479 323v4h1v-4zM479 328v1h1v-1zM479 330v1h1v-1zM479 332v3h1v-3zM480 323v8h1v-8zM480 332v3h1v-3zM481 323v2h1v-2zM481 326v9h1v-9zM482 324v1h1v-1zM482 326v3h1v-3zM482 331v3h1v-3zM483 324v2h1v-2zM483 328v3h1v-3zM483 332v4h1v-4zM484 322v6h1v-6zM484 329v6h1v-6zM485 323v2h1v-2zM485 326v3h1v-3zM485 330v3h1v-3zM485 334v1h1v-1zM486 322v7h1v-7zM486 330v3h1v-3zM486 334v1h1v-1zM487 323v11h1v-11zM488 324v8h1v-8zM488 333v1h1v-1zM489 323v1h1v-1zM489 326v1h1v-1zM489 329v3h1v-3zM489 333v1h1v-1zM490 323v2h1v-2zM490 326v2h1v-2zM490 330v1h1v-1zM490 332v4h1v-4zM491 317v54h1v-54zM492 174v197h1v-197zM493 324v6h1v-6zM493 331v3h1v-3zM494 325v4h1v-4zM494 330v1h1v-1zM494 332v2h1v-2zM495 325v2h1v-2zM495 329v5h1v-5zM496 325v2h1v-2zM496 328v2h1v-2zM496 331v3h1v-3zM497 325v3h1v-3zM497 329v1h1v-1zM497 331v4h1v-4zM498 325v3h1v-3zM498 330v3h1v-3zM499 324v3h1v-3zM499 329v1h1v-1zM499 331v4h1v-4zM500 324v3h1v-3zM500 329v2h1v-2zM500 332v3h1v-3zM501 324v10h1v-10zM502 324v3h1v-3zM502 329v2h1v-2zM502 333v2h1v-2zM503 324v4h1v-4zM503 329v3h1v-3zM503 333v3h1v-3zM504 323v5h1v-5zM504 329v2h1v-2zM504 332v3h1v-3zM505 327v3h1v-3zM505 331v1h1v-1zM505 333v2h1v-2zM506 325v2h1v-2zM506 329v1h1v-1zM506 331v3h1v-3zM507 325v4h1v-4zM507 330v5h1v-5zM508 324v1h1v-1zM508 328v1h1v-1zM508 330v5h1v-5zM509 324v2h1v-2zM509 329v4h1v-4zM510 323v6h1v-6zM510 332v3h1v-3zM511 324v2h1v-2zM511 327v2h1v-2zM511 332v1h1v-1zM512 323v4h1v-4zM512 328v2h1v-2zM512 331v1h1v-1zM512 333v1h1v-1zM513 323v3h1v-3zM513 328v1h1v-1zM513 330v3h1v-3zM514 323v5h1v-5zM514 329v1h1v-1zM514 331v3h1v-3zM515 324v4h1v-4zM515 329v5h1v-5zM516 324v4h1v-4zM516 330v4h1v-4zM517 325v5h1v-5zM517 331v4h1v-4zM518 324v9h1v-9zM519 324v3h1v-3zM519 328v1h1v-1zM519 330v2h1v-2zM519 333v1h1v-1zM520 324v5h1v-5zM520 331v3h1v-3zM538 315v3h1v-3zM538 325v2h1v-2zM538 329v1h1v-1zM538 332v1h1v-1zM538 335v3h1v-3zM538 339v5h1v-5zM539 315v2h1v-2zM539 318v1h1v-1zM539 322v2h1v-2zM539 325v7h1v-7zM539 333v1h1v-1zM539 336v3h1v-3zM539 340v5h1v-5zM540 313v7h1v-7zM540 321v2h1v-2zM540 325v4h1v-4zM540 330v1h1v-1zM540 332v1h1v-1zM540 334v2h1v-2zM540 337v2h1v-2zM540 340v1h1v-1zM540 342v2h1v-2zM541 317v7h1v-7zM541 325v5h1v-5zM541 331v1h1v-1zM541 333v1h1v-1zM541 335v2h1v-2zM541 338v5h1v-5zM542 317v2h1v-2zM542 320v1h1v-1zM542 323v8h1v-8zM542 336v2h1v-2zM542 339v3h1v-3zM542 343v2h1v-2zM543 313v4h1v-4zM543 319v6h1v-6zM543 327v9h1v-9zM543 337v6h1v-6zM544 313v1h1v-1zM544 315v2h1v-2zM544 318v1h1v-1zM544 320v3h1v-3zM544 324v1h1v-1zM544 326v1h1v-1zM544 328v4h1v-4zM544 333v4h1v-4zM544 338v5h1v-5zM545 310v12h1v-12zM545 323v1h1v-1zM545 325v3h1v-3zM545 329v1h1v-1zM545 331v1h1v-1zM545 334v1h1v-1zM545 336v8h1v-8zM546 313v7h1v-7zM546 321v1h1v-1zM546 325v2h1v-2zM546 328v1h1v-1zM546 330v3h1v-3zM546 334v3h1v-3zM546 338v6h1v-6zM547 314v5h1v-5zM547 321v2h1v-2zM547 324v3h1v-3zM547 328v1h1v-1zM547 330v1h1v-1zM547 332v6h1v-6zM547 339v3h1v-3zM548 313v1h1v-1zM548 315v3h1v-3zM548 321v1h1v-1zM548 323v1h1v-1zM548 325v3h1v-3zM548 329v1h1v-1zM548 331v3h1v-3zM548 336v1h1v-1zM548 339v4h1v-4zM549 314v5h1v-5zM549 320v6h1v-6zM549 327v2h1v-2zM549 330v3h1v-3zM549 334v1h1v-1zM549 336v2h1v-2zM549 340v5h1v-5zM550 284v7h1v-7zM550 292v2h1v-2zM550 295v32h1v-32zM550 328v2h1v-2zM550 332v2h1v-2zM550 335v4h1v-4zM550 343v1h1v-1zM551 314v4h1v-4zM551 322v9h1v-9zM551 332v3h1v-3zM551 336v4h1v-4zM551 343v1h1v-1zM552 315v2h1v-2zM552 320v2h1v-2zM552 323v5h1v-5zM552 329v1h1v-1zM552 331v1h1v-1zM552 333v6h1v-6zM552 340v1h1v-1zM552 342v4h1v-4zM553 314v2h1v-2zM553 317v3h1v-3zM553 322v1h1v-1zM553 324v1h1v-1zM553 327v1h1v-1zM553 329v1h1v-1zM553 332v1h1v-1zM553 334v2h1v-2zM553 338v3h1v-3zM553 342v2h1v-2zM554 315v4h1v-4zM554 320v2h1v-2zM554 324v2h1v-2zM554 329v1h1v-1zM554 331v3h1v-3zM554 335v1h1v-1zM554 337v1h1v-1zM554 339v2h1v-2zM554 342v2h1v-2zM554 345v2h1v-2zM555 316v4h1v-4zM555 321v3h1v-3zM555 326v1h1v-1zM555 329v2h1v-2zM555 332v14h1v-14zM556 316v2h1v-2zM556 319v3h1v-3zM556 323v1h1v-1zM556 325v1h1v-1zM556 327v4h1v-4zM556 337v4h1v-4zM556 342v2h1v-2zM556 345v3h1v-3zM557 318v7h1v-7zM557 326v1h1v-1zM557 329v4h1v-4zM557 335v9h1v-9zM558 317v5h1v-5zM558 324v4h1v-4zM558 329v2h1v-2zM558 335v2h1v-2zM558 338v5h1v-5zM559 317v2h1v-2zM559 322v2h1v-2zM559 325v1h1v-1zM559 327v5h1v-5zM559 334v3h1v-3zM559 338v5h1v-5zM560 319v1h1v-1zM560 321v6h1v-6zM560 329v1h1v-1zM560 331v12h1v-12zM561 318v3h1v-3zM561 323v2h1v-2zM561 326v5h1v-5zM561 332v2h1v-2zM561 335v12h1v-12zM562 316v5h1v-5zM562 322v1h1v-1zM562 324v2h1v-2zM562 327v2h1v-2zM562 330v5h1v-5zM562 336v7h1v-7zM563 317v7h1v-7zM563 325v1h1v-1zM563 329v1h1v-1zM563 331v2h1v-2zM563 334v1h1v-1zM563 337v7h1v-7zM564 318v7h1v-7zM564 327v1h1v-1zM564 329v5h1v-5zM564 335v1h1v-1zM564 337v5h1v-5zM565 315v3h1v-3zM565 319v1h1v-1zM565 321v3h1v-3zM565 325v1h1v-1zM565 327v2h1v-2zM565 331v2h1v-2zM565 334v1h1v-1zM565 337v1h1v-1zM565 339v3h1v-3zM565 343v2h1v-2zM566 317v1h1v-1zM566 322v3h1v-3zM566 326v2h1v-2zM566 329v4h1v-4zM566 334v2h1v-2zM566 337v6h1v-6zM567 316v1h1v-1zM567 318v3h1v-3zM567 322v4h1v-4zM567 328v6h1v-6zM567 335v1h1v-1zM567 337v2h1v-2zM567 340v5h1v-5zM568 315v3h1v-3zM568 319v6h1v-6zM568 326v3h1v-3zM568 330v2h1v-2zM568 333v2h1v-2zM568 336v1h1v-1zM568 338v1h1v-1zM568 340v3h1v-3zM569 316v4h1v-4zM569 322v6h1v-6zM569 331v4h1v-4zM569 336v2h1v-2zM569 339v5h1v-5zM570 313v10h1v-10zM570 325v2h1v-2zM570 328v8h1v-8zM570 337v7h1v-7zM571 314v3h1v-3zM571 319v2h1v-2zM571 323v2h1v-2zM571 326v2h1v-2zM571 333v2h1v-2zM571 336v2h1v-2zM571 339v6h1v-6zM572 314v2h1v-2zM572 317v2h1v-2zM572 320v2h1v-2zM572 323v1h1v-1zM572 325v1h1v-1zM572 327v2h1v-2zM572 331v1h1v-1zM572 334v1h1v-1zM572 338v10h1v-10zM573 315v7h1v-7zM573 323v1h1v-1zM573 326v1h1v-1zM573 329v4h1v-4zM573 334v5h1v-5zM573 340v6h1v-6zM574 312v12h1v-12zM574 325v1h1v-1zM574 330v3h1v-3zM574 334v2h1v-2zM574 337v1h1v-1zM574 339v1h1v-1zM574 341v5h1v-5zM575 314v6h1v-6zM575 321v1h1v-1zM575 323v3h1v-3zM575 327v1h1v-1zM575 329v1h1v-1zM575 331v6h1v-6zM575 340v4h1v-4zM576 311v8h1v-8zM576 320v3h1v-3zM576 326v8h1v-8zM576 336v2h1v-2zM576 339v1h1v-1zM576 342v4h1v-4zM577 314v3h1v-3zM577 319v1h1v-1zM577 321v1h1v-1zM577 325v1h1v-1zM577 327v10h1v-10zM577 338v2h1v-2zM577 341v5h1v-5zM578 315v3h1v-3zM578 320v2h1v-2zM578 326v1h1v-1zM578 329v5h1v-5zM578 335v1h1v-1zM578 338v1h1v-1zM578 340v6h1v-6zM579 313v2h1v-2zM579 316v3h1v-3zM579 320v2h1v-2zM579 323v3h1v-3zM579 330v5h1v-5zM579 336v2h1v-2zM579 340v6h1v-6zM580 313v7h1v-7zM580 321v6h1v-6zM580 328v2h1v-2zM580 333v5h1v-5zM580 339v2h1v-2zM580 342v1h1v-1zM581 313v8h1v-8zM581 322v5h1v-5zM581 329v2h1v-2zM581 334v4h1v-4zM581 340v2h1v-2zM581 343v4h1v-4zM582 314v6h1v-6zM582 321v1h1v-1zM582 323v3h1v-3zM582 327v5h1v-5zM582 334v1h1v-1zM582 336v5h1v-5zM582 342v2h1v-2zM582 345v1h1v-1zM583 315v2h1v-2zM583 318v7h1v-7zM583 326v2h1v-2zM583 329v4h1v-4zM583 335v8h1v-8zM584 315v5h1v-5zM584 322v3h1v-3zM584 327v3h1v-3zM584 332v4h1v-4zM584 337v8h1v-8zM585 306v15h1v-15zM585 322v1h1v-1zM585 324v3h1v-3zM585 328v1h1v-1zM585 330v2h1v-2zM585 333v2h1v-2zM585 336v6h1v-6zM585 343v2h1v-2zM586 309v2h1v-2zM586 314v2h1v-2zM586 318v1h1v-1zM586 321v1h1v-1zM586 323v3h1v-3zM586 329v10h1v-10zM586 340v13h1v-13zM587 311v3h1v-3zM587 315v3h1v-3zM587 320v1h1v-1zM587 322v2h1v-2zM587 326v3h1v-3zM587 330v3h1v-3zM587 334v4h1v-4zM587 340v6h1v-6zM588 306v16h1v-16zM588 323v2h1v-2zM588 326v6h1v-6zM588 335v4h1v-4zM588 340v4h1v-4zM589 313v10h1v-10zM589 324v3h1v-3zM589 328v2h1v-2zM589 331v2h1v-2zM589 334v14h1v-14zM590 314v6h1v-6zM590 322v9h1v-9zM590 332v1h1v-1zM590 335v1h1v-1zM590 337v1h1v-1zM590 339v4h1v-4zM591 316v4h1v-4zM591 321v1h1v-1zM591 323v1h1v-1zM591 325v2h1v-2zM591 330v2h1v-2zM591 333v2h1v-2zM591 337v2h1v-2zM591 340v4h1v-4zM592 313v5h1v-5zM592 319v1h1v-1zM592 321v3h1v-3zM592 326v7h1v-7zM592 334v3h1v-3zM592 338v5h1v-5zM593 316v3h1v-3zM593 320v2h1v-2zM593 325v2h1v-2zM593 328v1h1v-1zM593 330v3h1v-3zM593 334v2h1v-2zM593 337v6h1v-6zM594 318v2h1v-2zM594 321v2h1v-2zM594 325v5h1v-5zM594 332v2h1v-2zM594 335v2h1v-2zM594 338v6h1v-6zM595 316v1h1v-1zM595 318v1h1v-1zM595 320v3h1v-3zM595 324v5h1v-5zM595 331v7h1v-7zM595 339v7h1v-7zM596 314v4h1v-4zM596 319v3h1v-3zM596 323v1h1v-1zM596 325v3h1v-3zM596 329v3h1v-3zM596 333v1h1v-1zM596 336v2h1v-2zM596 340v2h1v-2zM596 343v1h1v-1zM597 315v6h1v-6zM597 322v1h1v-1zM597 324v1h1v-1zM597 327v1h1v-1zM597 329v2h1v-2zM597 332v1h1v-1zM597 336v3h1v-3zM597 340v1h1v-1zM597 342v3h1v-3zM598 317v3h1v-3zM598 321v3h1v-3zM598 325v1h1v-1zM598 327v2h1v-2zM598 330v2h1v-2zM598 333v1h1v-1zM598 337v8h1v-8zM648 313v4h1v-4zM648 318v7h1v-7zM648 326v5h1v-5zM648 332v1h1v-1zM648 334v1h1v-1zM648 336v9h1v-9zM649 313v8h1v-8zM649 322v6h1v-6zM649 332v11h1v-11zM650 316v5h1v-5zM650 326v2h1v-2zM650 329v1h1v-1zM650 332v1h1v-1zM650 334v2h1v-2zM650 337v5h1v-5zM651 316v5h1v-5zM651 323v1h1v-1zM651 325v6h1v-6zM651 332v3h1v-3zM651 341v2h1v-2zM652 318v2h1v-2zM652 321v1h1v-1zM652 323v9h1v-9zM652 335v2h1v-2zM652 338v5h1v-5zM653 316v5h1v-5zM653 322v2h1v-2zM653 325v18h1v-18zM654 314v4h1v-4zM654 319v6h1v-6zM654 326v1h1v-1zM654 328v8h1v-8zM654 337v1h1v-1zM654 339v9h1v-9zM655 319v6h1v-6zM655 326v5h1v-5zM655 333v8h1v-8zM655 342v1h1v-1zM656 320v1h1v-1zM656 323v8h1v-8zM656 332v6h1v-6zM656 339v4h1v-4zM657 318v3h1v-3zM657 322v6h1v-6zM657 329v13h1v-13zM658 317v3h1v-3zM658 322v1h1v-1zM658 324v4h1v-4zM658 329v3h1v-3zM658 334v1h1v-1zM658 336v5h1v-5zM658 342v1h1v-1zM659 316v9h1v-9zM659 326v10h1v-10zM659 337v5h1v-5zM660 318v3h1v-3zM660 322v8h1v-8zM660 331v3h1v-3zM660 336v2h1v-2zM660 339v4h1v-4zM661 317v5h1v-5zM661 323v4h1v-4zM661 328v4h1v-4zM661 333v2h1v-2zM661 337v2h1v-2zM661 340v1h1v-1zM662 317v2h1v-2zM662 320v3h1v-3zM662 324v2h1v-2zM662 327v2h1v-2zM662 330v2h1v-2zM662 336v2h1v-2zM662 339v2h1v-2zM663 315v1h1v-1zM663 317v2h1v-2zM663 320v1h1v-1zM663 322v1h1v-1zM663 324v1h1v-1zM663 326v1h1v-1zM663 328v1h1v-1zM663 331v6h1v-6zM663 338v1h1v-1zM664 317v3h1v-3zM664 321v3h1v-3zM664 326v3h1v-3zM664 330v3h1v-3zM664 334v11h1v-11zM665 315v6h1v-6zM665 322v4h1v-4zM665 327v3h1v-3zM665 331v1h1v-1zM665 333v4h1v-4zM665 338v1h1v-1zM666 316v4h1v-4zM666 322v3h1v-3zM666 326v1h1v-1zM666 330v4h1v-4zM666 336v6h1v-6zM667 314v7h1v-7zM667 323v1h1v-1zM667 325v2h1v-2zM667 328v4h1v-4zM667 333v2h1v-2zM667 337v1h1v-1zM667 339v5h1v-5zM668 313v3h1v-3zM668 317v3h1v-3zM668 321v2h1v-2zM668 327v1h1v-1zM668 331v9h1v-9zM669 312v5h1v-5zM669 318v1h1v-1zM669 320v9h1v-9zM669 330v3h1v-3zM669 335v6h1v-6zM670 311v4h1v-4zM670 316v1h1v-1zM670 319v6h1v-6zM670 326v5h1v-5zM670 332v1h1v-1zM670 334v4h1v-4zM670 339v2h1v-2zM671 313v4h1v-4zM671 318v1h1v-1zM671 320v1h1v-1zM671 322v4h1v-4zM671 327v5h1v-5zM671 334v2h1v-2zM671 337v1h1v-1zM671 339v3h1v-3zM672 311v10h1v-10zM672 323v1h1v-1zM672 328v1h1v-1zM672 330v3h1v-3zM672 334v3h1v-3zM672 340v4h1v-4zM673 312v19h1v-19zM673 333v2h1v-2zM673 337v5h1v-5zM673 343v5h1v-5zM674 311v8h1v-8zM674 321v1h1v-1zM674 323v2h1v-2zM674 326v5h1v-5zM674 333v2h1v-2zM674 336v7h1v-7zM675 311v2h1v-2zM675 314v1h1v-1zM675 316v8h1v-8zM675 325v8h1v-8zM675 334v4h1v-4zM675 339v1h1v-1zM675 341v2h1v-2zM676 59v242h1v-242zM676 304v3h1v-3zM676 308v2h1v-2zM676 312v86h1v-86zM677 314v7h1v-7zM677 322v4h1v-4zM677 327v1h1v-1zM677 329v1h1v-1zM677 331v3h1v-3zM677 336v2h1v-2zM677 339v1h1v-1zM677 341v2h1v-2zM678 314v2h1v-2zM678 317v1h1v-1zM678 321v2h1v-2zM678 324v1h1v-1zM678 327v2h1v-2zM678 331v1h1v-1zM678 333v4h1v-4zM678 338v2h1v-2zM678 341v3h1v-3zM679 300v17h1v-17zM679 318v2h1v-2zM679 321v3h1v-3zM679 326v4h1v-4zM679 332v1h1v-1zM679 335v10h1v-10zM680 312v7h1v-7zM680 321v1h1v-1zM680 323v1h1v-1zM680 325v5h1v-5zM680 331v12h1v-12zM681 315v5h1v-5zM681 322v7h1v-7zM681 332v1h1v-1zM681 334v2h1v-2zM681 337v2h1v-2zM681 340v3h1v-3zM682 314v6h1v-6zM682 321v1h1v-1zM682 324v4h1v-4zM682 329v1h1v-1zM682 331v10h1v-10zM683 314v6h1v-6zM683 321v2h1v-2zM683 324v5h1v-5zM683 330v2h1v-2zM683 333v1h1v-1zM683 335v1h1v-1zM683 337v6h1v-6zM684 315v3h1v-3zM684 319v1h1v-1zM684 322v3h1v-3zM684 326v2h1v-2zM684 329v2h1v-2zM684 332v6h1v-6zM684 340v2h1v-2zM685 314v4h1v-4zM685 321v1h1v-1zM685 323v1h1v-1zM685 325v3h1v-3zM685 329v1h1v-1zM685 333v3h1v-3zM685 337v2h1v-2zM685 340v1h1v-1zM685 342v3h1v-3zM686 315v3h1v-3zM686 322v7h1v-7zM686 330v2h1v-2zM686 334v2h1v-2zM686 338v2h1v-2zM686 341v4h1v-4zM687 315v1h1v-1zM687 317v3h1v-3zM687 321v12h1v-12zM687 334v2h1v-2zM687 337v6h1v-6zM688 316v2h1v-2zM688 319v6h1v-6zM688 327v3h1v-3zM688 331v4h1v-4zM688 336v7h1v-7zM689 315v8h1v-8zM689 324v13h1v-13zM689 338v1h1v-1zM689 340v4h1v-4zM690 315v2h1v-2zM690 318v14h1v-14zM690 333v1h1v-1zM690 335v4h1v-4zM690 340v1h1v-1zM690 342v2h1v-2zM691 317v5h1v-5zM691 323v12h1v-12zM691 336v3h1v-3zM691 340v3h1v-3zM692 316v4h1v-4zM692 322v3h1v-3zM692 326v2h1v-2zM692 329v9h1v-9zM692 339v5h1v-5zM693 315v4h1v-4zM693 320v4h1v-4zM693 325v4h1v-4zM693 330v2h1v-2zM693 333v5h1v-5zM693 340v2h1v-2zM694 311v13h1v-13zM694 327v4h1v-4zM694 332v3h1v-3zM694 338v1h1v-1zM694 340v1h1v-1zM695 316v2h1v-2zM695 319v7h1v-7zM695 327v2h1v-2zM695 330v2h1v-2zM695 333v7h1v-7zM695 341v5h1v-5zM696 313v3h1v-3zM696 319v3h1v-3zM696 323v6h1v-6zM696 330v6h1v-6zM696 337v4h1v-4zM697 313v4h1v-4zM697 320v4h1v-4zM697 325v5h1v-5zM697 331v10h1v-10zM698 314v5h1v-5zM698 320v2h1v-2zM698 323v1h1v-1zM698 326v6h1v-6zM698 333v4h1v-4zM698 338v5h1v-5zM699 314v5h1v-5zM699 321v2h1v-2zM699 324v2h1v-2zM699 327v1h1v-1zM699 329v1h1v-1zM699 331v1h1v-1zM699 334v2h1v-2zM699 337v9h1v-9zM700 313v1h1v-1zM700 315v3h1v-3zM700 321v1h1v-1zM700 323v5h1v-5zM700 329v2h1v-2zM700 334v5h1v-5zM700 340v3h1v-3zM701 314v2h1v-2zM701 318v1h1v-1zM701 320v1h1v-1zM701 323v1h1v-1zM701 325v4h1v-4zM701 330v1h1v-1zM701 332v1h1v-1zM701 334v13h1v-13zM702 312v6h1v-6zM702 319v5h1v-5zM702 328v1h1v-1zM702 330v4h1v-4zM702 335v5h1v-5zM702 341v3h1v-3zM703 314v1h1v-1zM703 316v3h1v-3zM703 320v2h1v-2zM703 325v3h1v-3zM703 329v1h1v-1zM703 331v2h1v-2zM703 334v10h1v-10zM704 312v4h1v-4zM704 317v2h1v-2zM704 320v1h1v-1zM704 322v2h1v-2zM704 325v1h1v-1zM704 328v2h1v-2zM704 331v11h1v-11zM705 315v10h1v-10zM705 327v1h1v-1zM705 329v14h1v-14zM706 316v6h1v-6zM706 323v1h1v-1zM706 325v4h1v-4zM706 330v4h1v-4zM706 335v8h1v-8zM707 313v3h1v-3zM707 320v3h1v-3zM707 324v4h1v-4zM707 329v1h1v-1zM707 331v1h1v-1zM707 333v3h1v-3zM707 337v4h1v-4zM708 311v7h1v-7zM708 319v5h1v-5zM708 325v9h1v-9zM708 336v3h1v-3zM708 340v2h1v-2zM799 324v1h1v-1zM799 326v4h1v-4zM799 331v2h1v-2zM799 334v1h1v-1zM800 325v1h1v-1zM800 327v1h1v-1zM800 332v4h1v-4zM801 321v3h1v-3zM801 325v1h1v-1zM801 327v3h1v-3zM801 331v1h1v-1zM801 333v2h1v-2zM802 321v4h1v-4zM802 326v1h1v-1zM802 329v1h1v-1zM802 332v3h1v-3zM803 323v2h1v-2zM803 326v1h1v-1zM803 328v2h1v-2zM803 331v1h1v-1zM803 333v2h1v-2zM804 323v3h1v-3zM804 327v2h1v-2zM804 332v1h1v-1zM804 334v2h1v-2zM805 323v7h1v-7zM805 333v2h1v-2zM806 322v1h1v-1zM806 324v7h1v-7zM806 333v2h1v-2zM807 323v10h1v-10zM807 334v1h1v-1zM808 323v7h1v-7zM808 331v3h1v-3zM809 323v8h1v-8zM809 332v2h1v-2zM810 322v2h1v-2zM810 325v5h1v-5zM810 331v4h1v-4zM811 322v5h1v-5zM811 328v1h1v-1zM811 330v2h1v-2zM811 333v2h1v-2zM812 323v12h1v-12zM813 322v3h1v-3zM813 326v2h1v-2zM813 329v7h1v-7zM814 322v3h1v-3zM814 327v2h1v-2zM814 330v5h1v-5zM815 322v4h1v-4zM815 327v9h1v-9zM816 323v13h1v-13zM817 322v4h1v-4zM817 329v6h1v-6zM818 323v4h1v-4zM818 328v7h1v-7zM819 322v4h1v-4zM819 327v1h1v-1zM819 329v2h1v-2zM819 334v1h1v-1zM820 324v4h1v-4zM820 331v4h1v-4zM821 322v1h1v-1zM821 325v2h1v-2zM821 330v2h1v-2zM821 333v2h1v-2zM822 321v4h1v-4zM822 327v2h1v-2zM822 330v1h1v-1zM822 332v3h1v-3zM823 322v3h1v-3zM823 326v1h1v-1zM823 328v2h1v-2zM823 331v3h1v-3zM824 324v2h1v-2zM824 327v8h1v-8zM825 322v9h1v-9zM825 332v4h1v-4zM826 323v3h1v-3zM826 327v2h1v-2zM826 330v3h1v-3zM826 334v2h1v-2zM827 322v5h1v-5zM827 329v1h1v-1zM827 331v2h1v-2zM827 334v2h1v-2zM828 322v4h1v-4zM828 327v1h1v-1zM828 333v3h1v-3zM829 323v3h1v-3zM829 327v1h1v-1zM829 329v1h1v-1zM829 331v2h1v-2zM829 334v2h1v-2zM830 322v2h1v-2zM830 325v4h1v-4zM830 330v1h1v-1zM830 332v4h1v-4zM831 322v8h1v-8zM831 331v3h1v-3zM831 335v1h1v-1zM832 322v14h1v-14zM833 323v1h1v-1zM833 325v4h1v-4zM833 330v6h1v-6zM834 322v4h1v-4zM834 327v1h1v-1zM834 329v1h1v-1zM834 332v2h1v-2zM834 335v3h1v-3zM835 322v3h1v-3zM835 326v4h1v-4zM835 331v4h1v-4zM836 322v1h1v-1zM836 324v1h1v-1zM836 326v1h1v-1zM836 330v6h1v-6zM837 322v2h1v-2zM837 325v2h1v-2zM837 329v7h1v-7zM838 322v3h1v-3zM838 326v10h1v-10zM839 323v1h1v-1zM839 326v3h1v-3zM839 331v1h1v-1zM839 333v2h1v-2zM840 323v7h1v-7zM840 333v2h1v-2zM841 322v1h1v-1zM841 324v2h1v-2zM841 327v9h1v-9zM842 323v1h1v-1zM842 325v9h1v-9zM843 322v1h1v-1zM843 324v5h1v-5zM843 330v1h1v-1zM843 332v3h1v-3zM844 323v2h1v-2zM844 326v4h1v-4zM844 332v4h1v-4zM845 322v13h1v-13zM846 323v8h1v-8zM846 332v2h1v-2zM847 321v3h1v-3zM847 325v9h1v-9zM848 322v14h1v-14zM849 324v1h1v-1zM849 326v3h1v-3zM849 330v6h1v-6zM850 324v1h1v-1zM850 327v2h1v-2zM850 332v1h1v-1zM850 334v1h1v-1zM851 323v9h1v-9zM851 333v2h1v-2zM852 324v12h1v-12zM853 323v12h1v-12zM854 322v4h1v-4zM854 327v3h1v-3zM854 331v3h1v-3zM855 323v7h1v-7zM855 331v6h1v-6zM856 322v5h1v-5zM856 328v7h1v-7zM857 323v8h1v-8zM857 332v2h1v-2zM857 335v3h1v-3zM858 322v8h1v-8zM858 331v4h1v-4zM859 322v1h1v-1zM859 324v1h1v-1zM859 326v5h1v-5zM859 332v2h1v-2zM859 335v1h1v-1zM908 322v3h1v-3zM908 326v9h1v-9zM909 322v2h1v-2zM909 325v1h1v-1zM909 327v1h1v-1zM909 329v2h1v-2zM909 332v3h1v-3zM910 322v8h1v-8zM910 333v2h1v-2zM911 323v1h1v-1zM911 325v6h1v-6zM911 333v2h1v-2zM912 322v3h1v-3zM912 327v1h1v-1zM912 329v1h1v-1zM912 331v4h1v-4zM913 323v2h1v-2zM913 326v1h1v-1zM913 330v1h1v-1zM913 332v3h1v-3zM914 324v2h1v-2zM914 327v1h1v-1zM914 329v6h1v-6zM915 324v4h1v-4zM915 329v7h1v-7zM916 322v4h1v-4zM916 327v6h1v-6zM916 334v2h1v-2zM917 324v10h1v-10zM918 323v12h1v-12zM919 323v1h1v-1zM919 325v11h1v-11zM920 323v2h1v-2zM920 326v1h1v-1zM920 329v7h1v-7zM921 322v3h1v-3zM921 328v1h1v-1zM921 330v6h1v-6zM922 323v4h1v-4zM922 328v6h1v-6zM923 321v5h1v-5zM923 327v9h1v-9zM924 321v3h1v-3zM924 325v2h1v-2zM924 328v7h1v-7zM925 321v5h1v-5zM925 327v4h1v-4zM925 332v2h1v-2zM926 321v4h1v-4zM926 326v4h1v-4zM926 332v4h1v-4zM927 323v4h1v-4zM927 328v3h1v-3zM927 334v2h1v-2zM928 321v4h1v-4zM928 326v1h1v-1zM928 328v3h1v-3zM928 332v2h1v-2zM929 323v2h1v-2zM929 326v1h1v-1zM929 329v2h1v-2zM929 332v2h1v-2zM930 323v1h1v-1zM930 326v9h1v-9zM931 322v2h1v-2zM931 326v10h1v-10zM932 322v8h1v-8zM932 332v4h1v-4zM933 323v4h1v-4zM933 328v2h1v-2zM933 331v4h1v-4zM934 322v5h1v-5zM934 329v3h1v-3zM934 333v2h1v-2zM935 323v2h1v-2zM935 326v3h1v-3zM935 330v3h1v-3zM935 334v1h1v-1zM936 323v1h1v-1zM936 325v10h1v-10zM937 323v2h1v-2zM937 326v2h1v-2zM937 329v5h1v-5zM938 210v137h1v-137zM939 317v26h1v-26zM940 323v6h1v-6zM940 330v3h1v-3zM941 323v2h1v-2zM941 326v4h1v-4zM941 331v3h1v-3zM942 323v11h1v-11zM943 322v13h1v-13zM944 323v5h1v-5zM944 329v5h1v-5zM945 323v4h1v-4zM945 328v6h1v-6zM946 323v2h1v-2zM946 326v2h1v-2zM946 329v5h1v-5zM947 323v1h1v-1zM947 325v2h1v-2zM947 328v7h1v-7zM948 323v2h1v-2zM948 326v9h1v-9zM949 324v5h1v-5zM949 330v2h1v-2zM949 333v1h1v-1zM950 323v5h1v-5zM950 329v4h1v-4zM950 334v2h1v-2zM951 323v1h1v-1zM951 325v2h1v-2zM951 328v1h1v-1zM951 330v3h1v-3zM951 334v2h1v-2zM952 324v1h1v-1zM952 326v7h1v-7zM952 334v1h1v-1zM953 324v10h1v-10zM954 324v3h1v-3zM954 328v3h1v-3zM954 332v4h1v-4zM955 322v5h1v-5zM955 328v2h1v-2zM955 331v3h1v-3zM956 324v1h1v-1zM956 326v4h1v-4zM956 332v3h1v-3zM957 322v13h1v-13zM958 324v11h1v-11zM959 133v238h1v-238zM960 315v55h1v-55zM961 323v1h1v-1zM961 325v5h1v-5zM961 331v1h1v-1zM961 334v1h1v-1zM962 323v1h1v-1zM962 325v3h1v-3zM962 329v6h1v-6zM963 322v13h1v-13zM964 322v10h1v-10zM964 334v2h1v-2zM965 322v1h1v-1zM965 324v1h1v-1zM965 326v4h1v-4zM965 331v1h1v-1zM965 334v1h1v-1zM966 323v1h1v-1zM966 326v3h1v-3zM966 331v3h1v-3zM966 335v2h1v-2zM967 324v1h1v-1zM967 326v3h1v-3zM967 330v3h1v-3zM967 334v3h1v-3zM968 322v2h1v-2zM968 325v4h1v-4zM968 331v5h1v-5zM969 322v5h1v-5zM969 328v1h1v-1zM969 330v3h1v-3zM969 334v2h1v-2z"/>
</svg>
</body></html>
